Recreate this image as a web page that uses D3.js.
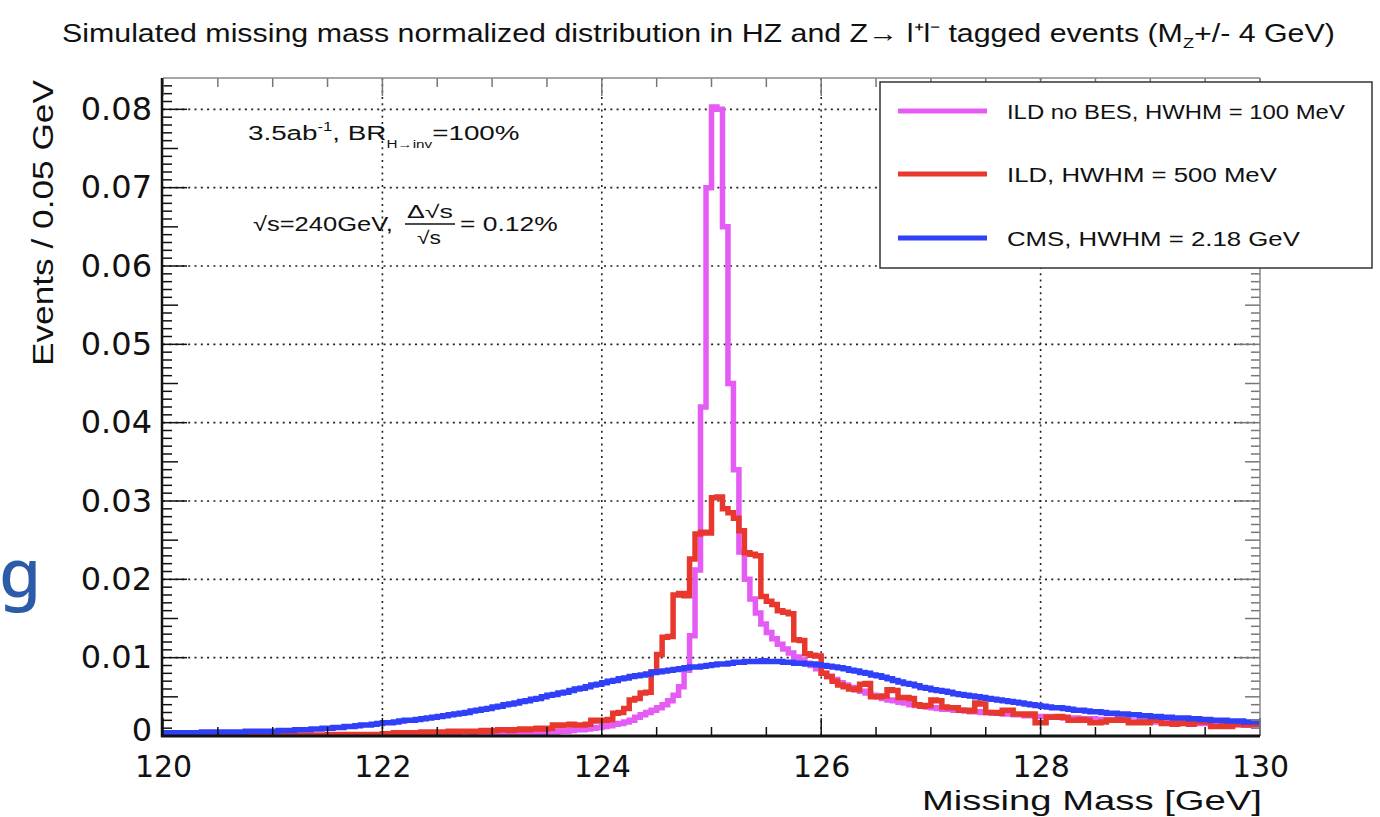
<!DOCTYPE html>
<html>
<head>
<meta charset="utf-8">
<script src="https://cdn.jsdelivr.net/npm/d3@7"></script>
<style>
  body { margin: 0; background: #fff; }
  svg { display: block; }
</style>
</head>
<body>
<svg id="chart" width="1380" height="817"></svg>
<script>
// Histogram binning: 200 bins of 0.05 GeV from 120 GeV
const massStart = 120;
const binWidth = 0.05;

// ILD no BES, HWHM = 100 MeV (normalized events per bin)
const ildNoBes = [
  0.0001,0.0001,0.0001,0.0001,0.0001,0.0001,0.0001,0.0001,0.0001,0.0001,0.0001,0.0001,0.0001,0.0001,0.0001,0.0001,0.0001,0.0001,0.0001,0.0001,
  0.0001,0.0001,0.0001,0.0001,0.0001,0.0001,0.0001,0.0001,0.0001,0.0001,0.0001,0.0001,0.0001,0.0001,0.0001,0.0001,0.0001,0.0001,0.0001,0.0001,
  0.0001,0.0001,0.0001,0.0001,0.0001,0.0001,0.0001,0.0001,0.0001,0.0001,0.0002,0.0002,0.0002,0.0002,0.0002,0.0002,0.0002,0.0002,0.0002,0.0002,
  0.0002,0.0002,0.0002,0.0003,0.0003,0.0003,0.0003,0.0004,0.0004,0.0004,0.0005,0.0005,0.0006,0.0006,0.0007,0.0008,0.0008,0.0009,0.0010,0.0011,
  0.0012,0.0013,0.0015,0.0016,0.0018,0.0020,0.0024,0.0027,0.0030,0.0033,0.0036,0.0040,0.0045,0.0052,0.0063,0.0084,0.0128,0.0212,0.0420,0.0700,
  0.0803,0.0800,0.0650,0.0450,0.0340,0.0235,0.0200,0.0175,0.0157,0.0143,0.0132,0.0124,0.0117,0.0111,0.0106,0.0101,0.0097,0.0093,0.0090,0.0086,
  0.0080,0.0076,0.0072,0.0068,0.0065,0.0062,0.0060,0.0057,0.0055,0.0052,0.0050,0.0048,0.0046,0.0045,0.0043,0.0042,0.0040,0.0039,0.0038,0.0037,
  0.0036,0.0035,0.0034,0.0034,0.0033,0.0033,0.0032,0.0031,0.0031,0.0030,0.0030,0.0029,0.0029,0.0028,0.0028,0.0027,0.0027,0.0026,0.0026,0.0025,
  0.0025,0.0025,0.0024,0.0024,0.0023,0.0023,0.0023,0.0022,0.0022,0.0022,0.0021,0.0021,0.0021,0.0020,0.0020,0.0020,0.0019,0.0019,0.0019,0.0019,
  0.0018,0.0018,0.0018,0.0017,0.0017,0.0017,0.0017,0.0016,0.0016,0.0016,0.0016,0.0015,0.0015,0.0015,0.0015,0.0014,0.0014,0.0014,0.0014,0.0014
];

// ILD, HWHM = 500 MeV
const ild = [
  0.0001,0.0001,0.0001,0.0001,0.0001,0.0001,0.0001,0.0001,0.0001,0.0001,0.0001,0.0001,0.0001,0.0001,0.0001,0.0001,0.0001,0.0001,0.0001,0.0001,
  0.0001,0.0001,0.0001,0.0001,0.0001,0.0001,0.0001,0.0001,0.0001,0.0001,0.0002,0.0002,0.0002,0.0002,0.0002,0.0002,0.0002,0.0002,0.0002,0.0002,
  0.0003,0.0003,0.0004,0.0003,0.0004,0.0004,0.0004,0.0005,0.0004,0.0005,0.0005,0.0005,0.0006,0.0005,0.0006,0.0006,0.0005,0.0006,0.0007,0.0006,
  0.0007,0.0008,0.0008,0.0007,0.0008,0.0009,0.0008,0.0009,0.0010,0.0009,0.0010,0.0014,0.0013,0.0014,0.0015,0.0014,0.0014,0.0015,0.0020,0.0019,
  0.0020,0.0021,0.0029,0.0030,0.0035,0.0046,0.0048,0.0055,0.0056,0.0082,0.0104,0.0126,0.0127,0.0180,0.0182,0.0179,0.0226,0.0258,0.0260,0.0259,
  0.0304,0.0305,0.0290,0.0285,0.0278,0.0262,0.0234,0.0232,0.0230,0.0178,0.0172,0.0168,0.0160,0.0158,0.0156,0.0123,0.0122,0.0105,0.0103,0.0102,
  0.0080,0.0076,0.0070,0.0065,0.0063,0.0060,0.0059,0.0066,0.0067,0.0050,0.0050,0.0051,0.0059,0.0058,0.0049,0.0049,0.0048,0.0040,0.0038,0.0039,
  0.0046,0.0045,0.0037,0.0036,0.0036,0.0033,0.0033,0.0032,0.0042,0.0041,0.0030,0.0030,0.0029,0.0033,0.0033,0.0028,0.0028,0.0027,0.0028,0.0017,
  0.0017,0.0024,0.0024,0.0025,0.0024,0.0020,0.0020,0.0021,0.0020,0.0017,0.0017,0.0018,0.0020,0.0020,0.0021,0.0020,0.0017,0.0017,0.0018,0.0017,
  0.0020,0.0020,0.0016,0.0016,0.0015,0.0016,0.0016,0.0015,0.0018,0.0018,0.0018,0.0012,0.0012,0.0013,0.0012,0.0015,0.0015,0.0014,0.0015,0.0015
];

// CMS, HWHM = 2.18 GeV
const cms = [
  0.0004,0.0004,0.0004,0.0004,0.0004,0.0004,0.0004,0.0005,0.0005,0.0005,0.0005,0.0005,0.0005,0.0005,0.0005,0.0006,0.0006,0.0006,0.0006,0.0006,
  0.0006,0.0007,0.0007,0.0007,0.0008,0.0008,0.0008,0.0009,0.0009,0.0010,0.0010,0.0011,0.0011,0.0012,0.0012,0.0013,0.0014,0.0014,0.0015,0.0016,
  0.0017,0.0017,0.0018,0.0019,0.0020,0.0020,0.0021,0.0022,0.0023,0.0024,0.0025,0.0026,0.0027,0.0028,0.0029,0.0030,0.0032,0.0033,0.0034,0.0035,
  0.0037,0.0038,0.0040,0.0041,0.0042,0.0044,0.0045,0.0047,0.0048,0.0050,0.0052,0.0053,0.0055,0.0056,0.0058,0.0060,0.0061,0.0063,0.0065,0.0066,
  0.0068,0.0070,0.0071,0.0073,0.0074,0.0076,0.0077,0.0078,0.0079,0.0081,0.0082,0.0083,0.0084,0.0085,0.0086,0.0087,0.0088,0.0088,0.0089,0.0090,
  0.0091,0.0092,0.0092,0.0093,0.0094,0.0094,0.0095,0.0095,0.0095,0.0096,0.0095,0.0095,0.0095,0.0094,0.0094,0.0093,0.0093,0.0092,0.0092,0.0091,
  0.0090,0.0089,0.0088,0.0087,0.0086,0.0084,0.0083,0.0081,0.0080,0.0078,0.0077,0.0075,0.0073,0.0071,0.0069,0.0067,0.0066,0.0064,0.0062,0.0061,
  0.0059,0.0058,0.0057,0.0056,0.0054,0.0053,0.0052,0.0051,0.0050,0.0049,0.0048,0.0047,0.0046,0.0045,0.0044,0.0043,0.0042,0.0041,0.0040,0.0039,
  0.0038,0.0037,0.0036,0.0036,0.0035,0.0034,0.0033,0.0033,0.0032,0.0031,0.0031,0.0030,0.0029,0.0029,0.0028,0.0028,0.0027,0.0027,0.0026,0.0026,
  0.0025,0.0025,0.0024,0.0024,0.0023,0.0023,0.0023,0.0022,0.0022,0.0021,0.0021,0.0020,0.0020,0.0020,0.0019,0.0019,0.0019,0.0018,0.0018,0.0018
];

const seriesLabels = ["ILD no BES, HWHM = 100 MeV", "ILD, HWHM = 500 MeV", "CMS, HWHM = 2.18 GeV"];
const xTickValues = [120, 122, 124, 126, 128, 130];
const yTickValues = [0, 0.01, 0.02, 0.03, 0.04, 0.05, 0.06, 0.07, 0.08];

// ---- drawing ----
const svg = d3.select("#chart");
const plot = { left: 163, right: 1260, top: 78, bottom: 736 };
const x = d3.scaleLinear().domain([120, 130]).range([plot.left, plot.right]);
const y = d3.scaleLinear().domain([0, 0.084]).range([plot.bottom, plot.top]);

const colors = ["#e45cf3", "#e8382d", "#3040f8"];
const sansFont = "'Liberation Sans', Arial, Helvetica, sans-serif";
const numFont = "'DejaVu Sans', 'Liberation Sans', sans-serif";

// stretch a start-anchored text horizontally to a given width
function fitWidth(sel, width) {
  const bb = sel.node().getBBox();
  const s = width / bb.width;
  sel.attr("transform", `translate(${bb.x},0) scale(${s},1) translate(${-bb.x},0)`);
}

// grid lines
const grid = svg.append("g").attr("stroke", "#222").attr("stroke-width", 1.6)
  .attr("stroke-dasharray", "2,4.3");
grid.selectAll("line.gy").data(yTickValues.filter(v => v > 0)).join("line")
  .attr("x1", plot.left).attr("x2", plot.right)
  .attr("y1", d => y(d)).attr("y2", d => y(d));
grid.selectAll("line.gx").data(xTickValues.filter(v => v > 120 && v < 130)).join("line")
  .attr("x1", d => x(d)).attr("x2", d => x(d))
  .attr("y1", plot.top).attr("y2", plot.bottom);

// histograms
svg.append("defs").append("clipPath").attr("id", "plotClip")
  .append("rect").attr("x", plot.left).attr("y", plot.top - 4)
  .attr("width", plot.right - plot.left).attr("height", plot.bottom - plot.top + 4);

const stepLine = d3.line().x(d => x(d[0])).y(d => y(d[1])).curve(d3.curveStepAfter);
function histPoints(vals) {
  const pts = vals.map((v, i) => [massStart + i * binWidth, v]);
  pts.push([massStart + vals.length * binWidth, vals[vals.length - 1]]);
  return pts;
}
const hg = svg.append("g").attr("clip-path", "url(#plotClip)");
[ildNoBes, ild, cms].forEach((vals, i) => {
  hg.append("path").attr("d", stepLine(histPoints(vals)))
    .attr("fill", "none").attr("stroke", colors[i]).attr("stroke-width", 5.5)
    .attr("stroke-linejoin", "miter");
});

// ticks (inward, ROOT style) on all four sides
const ticks = svg.append("g").attr("stroke", "#111").attr("stroke-width", 1.5);
const yMinor = d3.range(0, 84).map(k => k / 1000);
ticks.selectAll("line.yl").data(yMinor).join("line")
  .attr("x1", plot.left).attr("x2", d => plot.left + (d * 1000 % 10 === 0 ? 24 : (d * 1000 % 5 === 0 ? 15 : 9)))
  .attr("y1", d => y(d)).attr("y2", d => y(d));
ticks.selectAll("line.yr").data(yMinor).join("line")
  .attr("stroke", "#777")
  .attr("x1", plot.right).attr("x2", d => plot.right - (d * 1000 % 10 === 0 ? 24 : (d * 1000 % 5 === 0 ? 15 : 9)))
  .attr("y1", d => y(d)).attr("y2", d => y(d));
const xMinor = d3.range(0, 21).map(k => 120 + k * 0.5);
ticks.selectAll("line.xb").data(xMinor).join("line")
  .attr("x1", d => x(d)).attr("x2", d => x(d))
  .attr("y1", plot.bottom).attr("y2", d => plot.bottom - ((d - 120) % 2 === 0 ? 18 : 9));
ticks.selectAll("line.xt").data(xMinor).join("line")
  .attr("stroke", "#777")
  .attr("x1", d => x(d)).attr("x2", d => x(d))
  .attr("y1", plot.top).attr("y2", d => plot.top + ((d - 120) % 2 === 0 ? 18 : 9));

// frame
svg.append("line").attr("x1", plot.left).attr("x2", plot.right).attr("y1", plot.top).attr("y2", plot.top)
  .attr("stroke", "#888").attr("stroke-width", 1.5);
svg.append("line").attr("x1", plot.right).attr("x2", plot.right).attr("y1", plot.top).attr("y2", plot.bottom)
  .attr("stroke", "#888").attr("stroke-width", 1.5);
svg.append("line").attr("x1", plot.left - 1).attr("x2", plot.left - 1).attr("y1", plot.top).attr("y2", plot.bottom + 1)
  .attr("stroke", "#111").attr("stroke-width", 2.5);
svg.append("line").attr("x1", plot.left - 2).attr("x2", plot.right).attr("y1", plot.bottom).attr("y2", plot.bottom)
  .attr("stroke", "#111").attr("stroke-width", 3);

// axis labels via d3 axes
const yAxis = svg.append("g").attr("transform", `translate(${plot.left},0)`)
  .call(d3.axisLeft(y).tickValues(yTickValues).tickSize(0).tickPadding(11)
    .tickFormat(d => d === 0 ? "0" : d3.format(".2f")(d)));
yAxis.select(".domain").remove();
yAxis.selectAll("text").attr("font-family", numFont).attr("font-size", 32).attr("fill", "#111");
// lift the zero label clear of the first x label
yAxis.selectAll(".tick").filter(d => d === 0).select("text").attr("y", -6);

const xAxis = svg.append("g").attr("transform", `translate(0,${plot.bottom})`)
  .call(d3.axisBottom(x).tickValues(xTickValues).tickSize(0).tickPadding(20).tickFormat(d3.format("d")));
xAxis.select(".domain").remove();
xAxis.selectAll("text").attr("font-family", numFont).attr("font-size", 30).attr("fill", "#111");

// axis titles
const xTitle = svg.append("text").attr("x", 922).attr("y", 810)
  .attr("font-family", sansFont).attr("font-size", 27).attr("fill", "#111")
  .text("Missing Mass [GeV]");
fitWidth(xTitle, 340);

const yTitleG = svg.append("g").attr("transform", "translate(53,366) rotate(-90)");
const yTitle = yTitleG.append("text").attr("x", 0).attr("y", 0)
  .attr("font-family", sansFont).attr("font-size", 30).attr("fill", "#111")
  .text("Events / 0.05 GeV");
fitWidth(yTitle, 286);

// chart title
const title = svg.append("text").attr("x", 62).attr("y", 42)
  .attr("font-family", sansFont).attr("font-size", 25).attr("fill", "#111");
title.append("tspan").text("Simulated missing mass normalized distribution in HZ and Z\u2192 l\u207Al\u207B tagged events (M");
title.append("tspan").attr("font-size", 15).attr("dy", 6).text("Z");
title.append("tspan").attr("dy", -6).text("+/- 4 GeV)");
fitWidth(title, 1273);

// annotations
const note1 = svg.append("text").attr("x", 248).attr("y", 140)
  .attr("font-family", sansFont).attr("font-size", 20).attr("fill", "#111");
note1.append("tspan").text("3.5ab");
note1.append("tspan").attr("font-size", 12).attr("dy", -9).text("-1");
note1.append("tspan").attr("dy", 9).text(", BR");
note1.append("tspan").attr("font-size", 11).attr("dy", 8).text("H\u2192inv");
note1.append("tspan").attr("dy", -8).text("=100%");
fitWidth(note1, 272);

const note2a = svg.append("text").attr("x", 253).attr("y", 231)
  .attr("font-family", sansFont).attr("font-size", 20).attr("fill", "#111")
  .text("\u221As=240GeV,");
fitWidth(note2a, 140);
const fracNum = svg.append("text").attr("x", 407).attr("y", 218)
  .attr("font-family", sansFont).attr("font-size", 18).attr("fill", "#111")
  .text("\u0394\u221As");
fitWidth(fracNum, 46);
svg.append("line").attr("x1", 405).attr("x2", 455).attr("y1", 224).attr("y2", 224)
  .attr("stroke", "#111").attr("stroke-width", 1.5);
const fracDen = svg.append("text").attr("x", 417).attr("y", 244)
  .attr("font-family", sansFont).attr("font-size", 18).attr("fill", "#111")
  .text("\u221As");
fitWidth(fracDen, 24);
const note2b = svg.append("text").attr("x", 460).attr("y", 231)
  .attr("font-family", sansFont).attr("font-size", 20).attr("fill", "#111")
  .text("= 0.12%");
fitWidth(note2b, 98);

// legend
const legend = svg.append("g");
legend.append("rect").attr("x", 880).attr("y", 82).attr("width", 492).attr("height", 186)
  .attr("fill", "#fff").attr("stroke", "#333").attr("stroke-width", 1.5);
const legendY = [111, 174, 238];
const legendW = [338, 270, 293];
seriesLabels.forEach((label, i) => {
  legend.append("line").attr("x1", 898).attr("x2", 987)
    .attr("y1", legendY[i]).attr("y2", legendY[i])
    .attr("stroke", colors[i]).attr("stroke-width", 5);
  const t = legend.append("text").attr("x", 1007).attr("y", legendY[i] + 8)
    .attr("font-family", sansFont).attr("font-size", 21).attr("fill", "#111")
    .text(label);
  fitWidth(t, legendW[i]);
});

// slide text fragment at the left edge
svg.append("text").attr("x", -1).attr("y", 597)
  .attr("font-family", "'Noto Sans', sans-serif").attr("font-size", 68).attr("font-weight", 500)
  .attr("fill", "#2c5ba8").text("g");
</script>
</body>
</html>
